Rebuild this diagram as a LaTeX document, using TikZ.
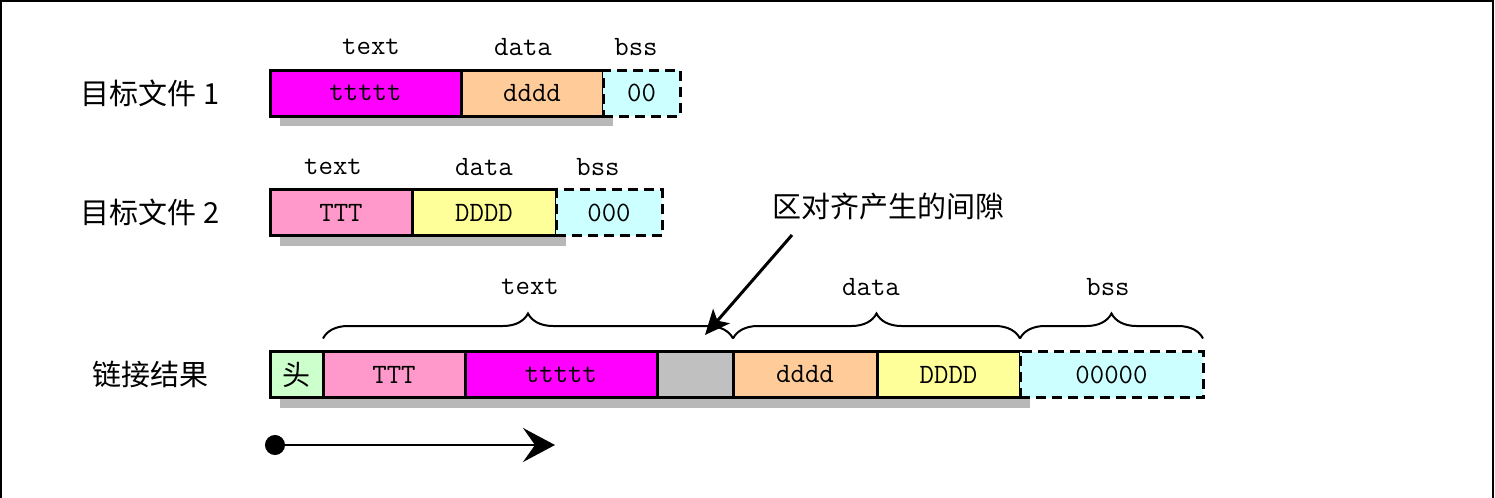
\documentclass[tikz,border=0pt]{standalone}
\usepackage{fontspec}
\newfontfamily\cjk{Noto Sans CJK SC}
\usetikzlibrary{positioning,arrows.meta,decorations.pathreplacing,backgrounds}

\definecolor{ttext}{RGB}{255,0,255}
\definecolor{tdata}{RGB}{255,204,153}
\definecolor{tbss}{RGB}{204,255,255}
\definecolor{Ttext}{RGB}{255,153,204}
\definecolor{Tdata}{RGB}{255,255,153}
\definecolor{thead}{RGB}{204,255,204}
\definecolor{tgap}{RGB}{192,192,192}

\tikzset{
  seg/.style={draw, line width=1.5pt, minimum height=23pt, inner sep=0pt, outer sep=0pt,
    font=\ttfamily\fontsize{14}{16}\selectfont},
  bssbox/.style={seg, fill=tbss, dash pattern=on 5pt off 3pt},
  shade/.style={fill=black!28},
  secname/.style={font=\ttfamily\fontsize{14}{16}\selectfont},
  rowname/.style={font=\cjk\fontsize{14.5}{17}\selectfont},
  brc/.style={decorate, decoration={brace, amplitude=12.5pt}, line width=1pt},
}

\begin{document}
\begin{tikzpicture}[x={(0.5pt,0)}, y={(0,-0.5pt)}]
\useasboundingbox (0,0) rectangle (1495,498);
\draw[line width=1pt] (1,498) -- (1,1) -- (1493,1) -- (1493,498);

% object file 1
\node[rowname] (f1) at (150,93) {目标文件 1};
\node[seg, fill=ttext, minimum width=95.5pt, anchor=west] (t1) at (270,93) {ttttt};
\node[seg, fill=tdata, minimum width=71pt, right=0pt of t1] (d1) {dddd};
\node[bssbox, minimum width=38.5pt, right=0pt of d1] (b1) {00};
\node[secname] (lt1) at (371,47) {text};
\node[secname] (ld1) at (523,47) {data};
\node[secname] (lb1) at (636,47) {bss};

% object file 2
\node[rowname] (f2) at (150,212) {目标文件 2};
\node[seg, fill=Ttext, minimum width=71pt, anchor=west] (t2) at (270,212.5) {TTT};
\node[seg, fill=Tdata, minimum width=72pt, right=0pt of t2] (d2) {DDDD};
\node[bssbox, minimum width=53pt, right=0pt of d2] (b2) {000};
\node[secname] (lt2) at (333,167) {text};
\node[secname] (ld2) at (484,167) {data};
\node[secname] (lb2) at (598,167) {bss};

% linked result
\node[rowname] (f3) at (150,374) {链接结果};
\node[seg, fill=thead, minimum width=26.5pt, anchor=west] (h3) at (270,374.5) {\cjk 头};
\node[seg, fill=Ttext, minimum width=71pt, right=0pt of h3] (T3) {TTT};
\node[seg, fill=ttext, minimum width=96pt, right=0pt of T3] (t3) {ttttt};
\node[seg, fill=tgap, minimum width=38pt, right=0pt of t3] (gap) {};
\node[seg, fill=tdata, minimum width=72pt, right=0pt of gap] (d3) {dddd};
\node[seg, fill=Tdata, minimum width=71.5pt, right=0pt of d3] (D3) {DDDD};
\node[bssbox, minimum width=91.5pt, right=0pt of D3] (b3) {00000};

% shadows
\begin{scope}[on background layer]
\fill[shade] ([xshift=5pt]t1.south west) rectangle ([xshift=5pt,yshift=-5pt]d1.south east);
\fill[shade] ([xshift=5pt]t2.south west) rectangle ([xshift=5pt,yshift=-5pt]d2.south east);
\fill[shade] ([xshift=5pt]h3.south west) rectangle ([xshift=5pt,yshift=-5pt]D3.south east);
\end{scope}

% braces
\draw[brc] ([yshift=6.5pt]T3.north west) -- ([yshift=6.5pt]gap.north east);
\draw[brc] ([yshift=6.5pt]d3.north west) -- ([yshift=6.5pt]D3.north east);
\draw[brc] ([yshift=6.5pt]b3.north west) -- ([yshift=6.5pt]b3.north east);
\node[secname] (lt3) at (530,287) {text};
\node[secname] (ld3) at (871,287) {data};
\node[secname] (lb3) at (1108,287) {bss};

% note on the gap
\node[rowname] (note) at (888,207) {区对齐产生的间隙};
\coordinate (notefoot) at (792,235);
\coordinate (gaptip) at (705,335);
\draw[line width=1.5pt, -{Stealth[length=12.5pt,width=11pt,inset=3pt]}] (notefoot) -- (gaptip);

% direction
\coordinate (dot) at (265,445);
\coordinate (tip) at (555,445);
\draw[line width=1pt, {Circle[length=10pt]}-{Stealth[length=16pt,width=17pt,inset=6pt]}] (dot) -- (tip);
\end{tikzpicture}
\end{document}
